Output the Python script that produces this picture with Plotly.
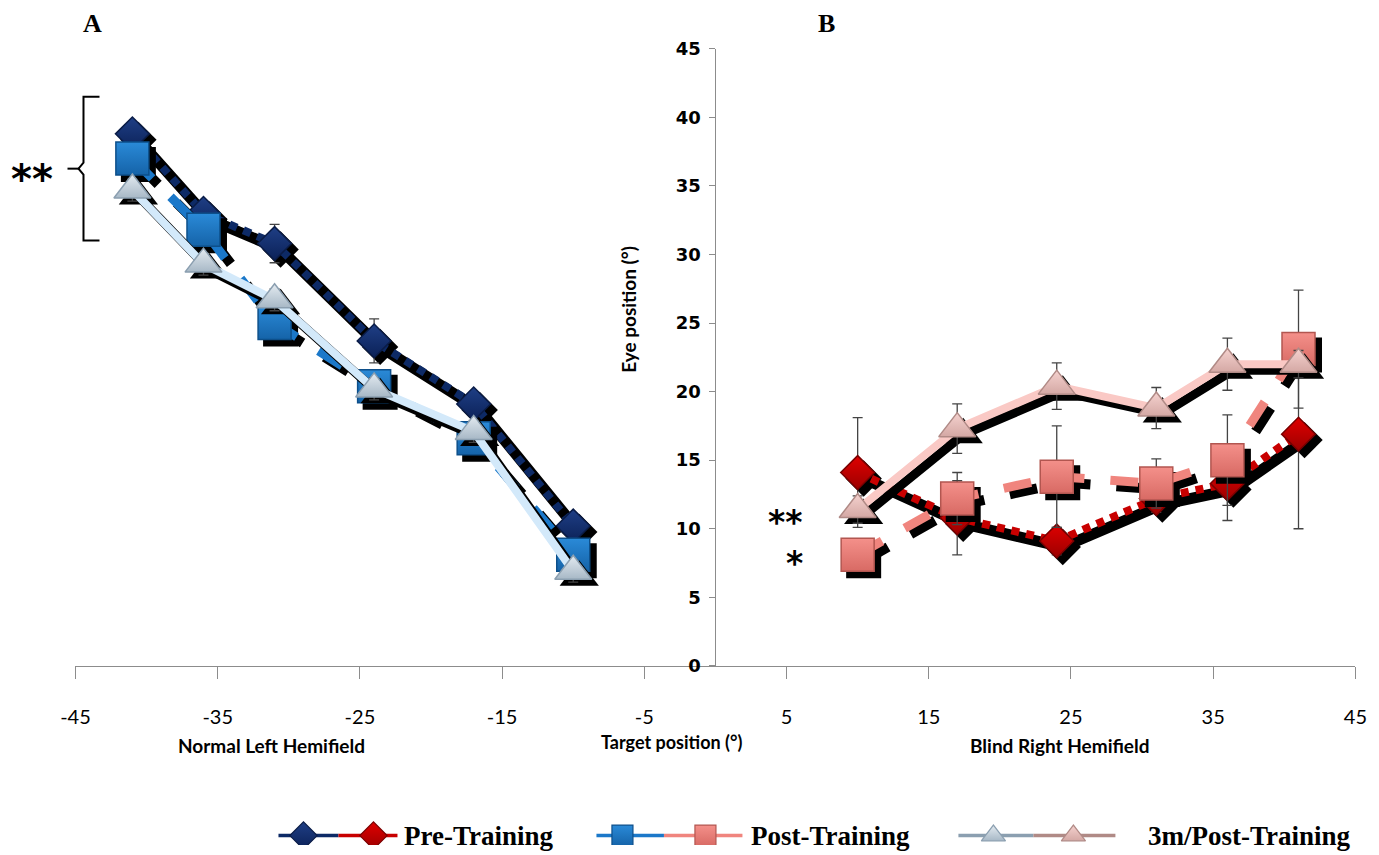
import plotly.graph_objects as go

# ---- canvas ----
W, H = 1379, 855
# page-to-screen mapping of the rendered page (offset, scale) per axis
OX, KX = 14.5, 0.9805
OY, KY = 9.1, 0.977

# plot area as it should appear on screen (pixels)
PL, PR, PT, PB = 75, 1355, 47, 665
X_RANGE = [-45, 45]
Y_RANGE = [0, 45]

# ---- data: normal left hemifield ----
left_x = [-41, -36, -31, -24, -17, -10]
left_pre = [38.8, 33.0, 30.8, 23.7, 19.1, 10.2]
left_pre_err = [0.8, 0.8, 1.4, 1.6, 0.8, 0.8]
left_post = [37.0, 31.8, 25.0, 20.4, 16.6, 8.1]
left_post_err = [0.8, 0.8, 0.8, 0.8, 0.8, 0.8]
left_3m = [34.7, 29.3, 26.7, 20.2, 17.1, 6.9]
left_3m_err = [0.8, 0.8, 0.8, 0.8, 0.8, 0.8]

# ---- data: blind right hemifield ----
right_x = [10, 17, 24, 31, 36, 41]
right_pre = [14.1, 10.8, 9.1, 12.2, 13.3, 16.9]
right_pre_err = [4.0, 2.7, 1.0, 1.0, 2.7, 6.9]
right_post = [8.1, 12.2, 13.8, 13.3, 15.0, 23.1]
right_post_err = [0.8, 1.9, 3.7, 1.8, 3.3, 4.3]
right_3m = [11.4, 17.3, 20.4, 18.8, 22.0, 22.0]
right_3m_err = [1.0, 1.8, 1.7, 1.5, 1.9, 1.0]

x_ticks = [-45, -35, -25, -15, -5, 5, 15, 25, 35, 45]
y_ticks = [0, 5, 10, 15, 20, 25, 30, 35, 40, 45]

legend_labels = ["Pre-Training", "Post-Training", "3m/Post-Training"]


def fx(p):
    """screen x pixel -> paper fraction"""
    return ((p - OX) / KX) / W


def fy(p):
    """screen y pixel -> paper fraction"""
    return 1 - ((p - OY) / KY) / H


# drop-shadow offset (6 px right, 6 px down) in data units
SX = 6 * (X_RANGE[1] - X_RANGE[0]) / (PR - PL)
SY = 6 * (Y_RANGE[1] - Y_RANGE[0]) / (PB - PT)

STYLE = {
    "pre": dict(symbol="diamond", size=26, dash="8px,7px", width=8, shadow_dash="solid"),
    "post": dict(symbol="square", size=33, dash="28px,26px", width=9, shadow_dash="28px,26px"),
    "m3": dict(symbol="triangle-up", size=32, dash="solid", width=8, shadow_dash="solid"),
}

COLORS = {
    ("blue", "pre"): dict(line="#0d2a66", fill="#1f3f86", edge="#0a1c47", grad="#0b2157"),
    ("blue", "post"): dict(line="#1b78c9", fill="#2a8ad8", edge="#0d4f8a", grad="#1563a8"),
    ("blue", "m3"): dict(line="#d3e9fa", fill="#e4ebf1", edge="#8b9fb0", grad="#a7b8c6"),
    ("red", "pre"): dict(line="#c80000", fill="#e00000", edge="#7a0000", grad="#9c0000"),
    ("red", "post"): dict(line="#f0857e", fill="#f4908a", edge="#b25650", grad="#d86a64"),
    ("red", "m3"): dict(line="#fac9c5", fill="#f5d2cf", edge="#b08a86", grad="#d4a8a4"),
}

fig = go.Figure()


def add_series(x, y, err, side, kind):
    st = STYLE[kind]
    c = COLORS[(side, kind)]
    shadow_w = st["width"] + (3 if kind == "pre" else 1)
    fig.add_trace(go.Scatter(
        x=[v + SX for v in x], y=[v - SY for v in y],
        mode="lines+markers",
        line=dict(color="black", width=shadow_w, dash=st["shadow_dash"]),
        marker=dict(symbol=st["symbol"], size=st["size"] + 2, color="black"),
        hoverinfo="skip", showlegend=False,
    ))
    fig.add_trace(go.Scatter(
        x=x, y=y, mode="lines+markers",
        line=dict(color=c["line"], width=st["width"], dash=st["dash"]),
        marker=dict(symbol=st["symbol"], size=st["size"], color=c["fill"],
                    line=dict(color=c["edge"], width=1.5),
                    gradient=dict(type="vertical", color=c["grad"])),
        error_y=dict(type="data", array=err, color="#444444", thickness=1.3, width=5),
        showlegend=False,
    ))


add_series(left_x, left_pre, left_pre_err, "blue", "pre")
add_series(left_x, left_post, left_post_err, "blue", "post")
add_series(left_x, left_3m, left_3m_err, "blue", "m3")
add_series(right_x, right_pre, right_pre_err, "red", "pre")
add_series(right_x, right_post, right_post_err, "red", "post")
add_series(right_x, right_3m, right_3m_err, "red", "m3")

# ---- legend row (own axes, screen-pixel units) ----
LEG_Y = 835
legend_layout = [
    # (line start, blue marker, red marker, line end, text start)
    (278, 303, 373, 397, 402),
    (596, 622, 705, 742, 749),
    (958, 993, 1073, 1115, 1146),
]
for (kind, label, (x0, xb, xr, x1, xt)) in zip(["pre", "post", "m3"], legend_labels, legend_layout):
    st = STYLE[kind]
    mid = (xb + xr) / 2
    for side, (a, b, xm) in (("blue", (x0, mid, xb)), ("red", (mid, x1, xr))):
        c = COLORS[(side, kind)]
        fig.add_trace(go.Scatter(
            x=[a, b], y=[LEG_Y, LEG_Y], mode="lines",
            line=dict(color=c["line"] if kind != "m3" else c["edge"], width=3.5),
            xaxis="x2", yaxis="y2", hoverinfo="skip", showlegend=False,
        ))
        fig.add_trace(go.Scatter(
            x=[xm], y=[LEG_Y], mode="markers",
            marker=dict(symbol=st["symbol"], size=21, color=c["fill"],
                        line=dict(color=c["edge"], width=1.2),
                        gradient=dict(type="vertical", color=c["grad"])),
            xaxis="x2", yaxis="y2", hoverinfo="skip", showlegend=False,
        ))
    fig.add_annotation(x=fx(xt), y=fy(LEG_Y), xref="paper", yref="paper",
                       text="<b>%s</b>" % label, showarrow=False,
                       xanchor="left", yanchor="middle",
                       font=dict(family="Liberation Serif, Times New Roman, serif",
                                 size=27, color="black"))

SANS_N = "Lato, Roboto, Liberation Sans, sans-serif"
STAR = "DejaVu Sans, sans-serif"

annotations = [
    dict(text="<b>A</b>", px=92, py=22, size=26, family="Liberation Serif, serif"),
    dict(text="<b>B</b>", px=826, py=22, size=26, family="Liberation Serif, serif"),
    dict(text="<b>Normal Left Hemifield</b>", px=271, py=745, size=19, family=SANS_N),
    dict(text="<b>Blind Right Hemifield</b>", px=1060, py=745, size=19, family=SANS_N),
    dict(text="<b>Target position (°)</b>", px=671, py=741, size=18, family=SANS_N),
    dict(text="<b>**</b>", px=32, py=177, size=40, family=STAR),
    dict(text="<b>**</b>", px=785, py=521, size=33, family=STAR),
    dict(text="<b>*</b>", px=794, py=562, size=33, family=STAR),
]
for a in annotations:
    fig.add_annotation(x=fx(a["px"]), y=fy(a["py"]), xref="paper", yref="paper",
                       text=a["text"], showarrow=False, xanchor="center", yanchor="middle",
                       font=dict(family=a["family"], size=a["size"], color="black"))

fig.add_annotation(x=fx(628), y=fy(308), xref="paper", yref="paper",
                   text="<b>Eye position (°)</b>", showarrow=False, textangle=-90,
                   xanchor="center", yanchor="middle",
                   font=dict(family=SANS_N, size=19, color="black"))

# significance bracket on the left
bracket = "M {a},{t} L {b},{t} L {b},{m1} L {c},{m} L {b},{m2} L {b},{u} L {a},{u}".format(
    a=fx(99), b=fx(83), c=fx(78), t=fy(95), u=fy(239), m=fy(167), m1=fy(161), m2=fy(173))
fig.add_shape(type="path", path=bracket, xref="paper", yref="paper",
              line=dict(color="black", width=2))
fig.add_shape(type="line", x0=fx(67), x1=fx(79), y0=fy(167), y1=fy(167),
              xref="paper", yref="paper", line=dict(color="black", width=2))

y_pos = fx((PL + PR) / 2)

fig.update_layout(
    width=W, height=H,
    margin=dict(l=0, r=0, t=0, b=0),
    paper_bgcolor="white", plot_bgcolor="white",
    showlegend=False,
    xaxis=dict(
        domain=[fx(PL), fx(PR)], range=X_RANGE, tickvals=x_ticks,
        ticktext=[str(v) for v in x_ticks],
        showgrid=False, zeroline=False, showline=True, linecolor="#8c8c8c", linewidth=1,
        ticks="outside", ticklen=12, tickcolor="#8c8c8c", ticklabelstandoff=21,
        tickfont=dict(family=SANS_N, size=20, color="black"),
    ),
    yaxis=dict(
        domain=[fy(PB), fy(PT)], range=Y_RANGE, tickvals=y_ticks,
        anchor="free", position=y_pos,
        showgrid=False, zeroline=False, showline=True, linecolor="#8c8c8c", linewidth=1,
        ticks="outside", ticklen=6, tickcolor="#8c8c8c", ticklabelstandoff=5,
        tickfont=dict(family="DejaVu Sans, Verdana, sans-serif", size=18,
                      color="black", weight="bold"),
    ),
    xaxis2=dict(domain=[0, 1], range=[OX, OX + KX * W], visible=False, fixedrange=True),
    yaxis2=dict(domain=[0, 100 / H], range=[OY + KY * H, OY + KY * (H - 100)],
                visible=False, fixedrange=True, anchor="x2"),
)

fig.write_html("out.html")
